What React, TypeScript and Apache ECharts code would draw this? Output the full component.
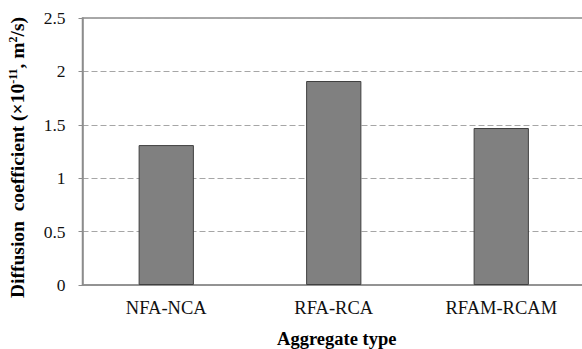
import React, { useEffect, useRef } from "react";
import * as echarts from "echarts";

const categories = ["NFA-NCA", "RFA-RCA", "RFAM-RCAM"];
const diffusionCoefficients = [1.31, 1.91, 1.47];

const serif = "'Liberation Serif', 'Times New Roman', serif";

export default function App() {
  const ref = useRef<HTMLDivElement>(null);

  useEffect(() => {
    document.body.style.margin = "0";
    document.body.style.overflow = "hidden";
    if (!ref.current) return;
    const chart = echarts.init(ref.current, null, { renderer: "svg" });
    chart.setOption({
      animation: false,
      backgroundColor: "#ffffff",
      grid: {
        left: 82.5,
        top: 18,
        right: -3,
        bottom: 64,
        show: true,
        borderColor: "#8c8c8c",
        borderWidth: 1.5,
        containLabel: false,
        outerBoundsMode: "none",
      },
      xAxis: {
        type: "category",
        data: categories,
        name: "Aggregate type",
        nameLocation: "middle",
        nameGap: 44,
        nameTextStyle: {
          fontFamily: serif,
          fontWeight: "bold",
          fontSize: 18.5,
          color: "#000",
          padding: [0, 0, 0, 6],
        },
        axisLine: { show: true, lineStyle: { color: "#8c8c8c", width: 1.5 } },
        axisTick: { show: false },
        axisLabel: {
          fontFamily: serif,
          fontSize: 18.5,
          color: "#111",
          margin: 13,
        },
      },
      yAxis: {
        type: "value",
        min: 0,
        max: 2.5,
        interval: 0.5,
        name: "{b|Diffusion  coefficient (×10}{s|-11}{b|, m}{s|2}{b|/s)}",
        nameLocation: "middle",
        nameRotate: 90,
        nameGap: 54,
        nameTextStyle: {
          padding: [0, 12, 0, 0],
          rich: {
            b: {
              fontFamily: serif,
              fontWeight: "bold",
              fontSize: 19.5,
              color: "#000",
              lineHeight: 22,
            },
            s: {
              fontFamily: serif,
              fontWeight: "bold",
              fontSize: 12,
              color: "#000",
              verticalAlign: "top",
              lineHeight: 22,
            },
          },
        },
        axisLine: { show: true, lineStyle: { color: "#8c8c8c", width: 1.5 } },
        axisTick: { show: true, length: 4, lineStyle: { color: "#8c8c8c" } },
        axisLabel: {
          fontFamily: serif,
          fontSize: 17.5,
          color: "#111",
          margin: 17,
        },
        splitLine: {
          show: true,
          lineStyle: { color: "#a6a6a6", type: [6, 3], width: 1 },
        },
      },
      series: [
        {
          type: "bar",
          data: diffusionCoefficients,
          barWidth: "33%",
          itemStyle: {
            color: "#808080",
            borderColor: "#404040",
            borderWidth: 1,
          },
        },
      ],
    });
    return () => chart.dispose();
  }, []);

  return <div ref={ref} style={{ width: 582, height: 349 }} />;
}
